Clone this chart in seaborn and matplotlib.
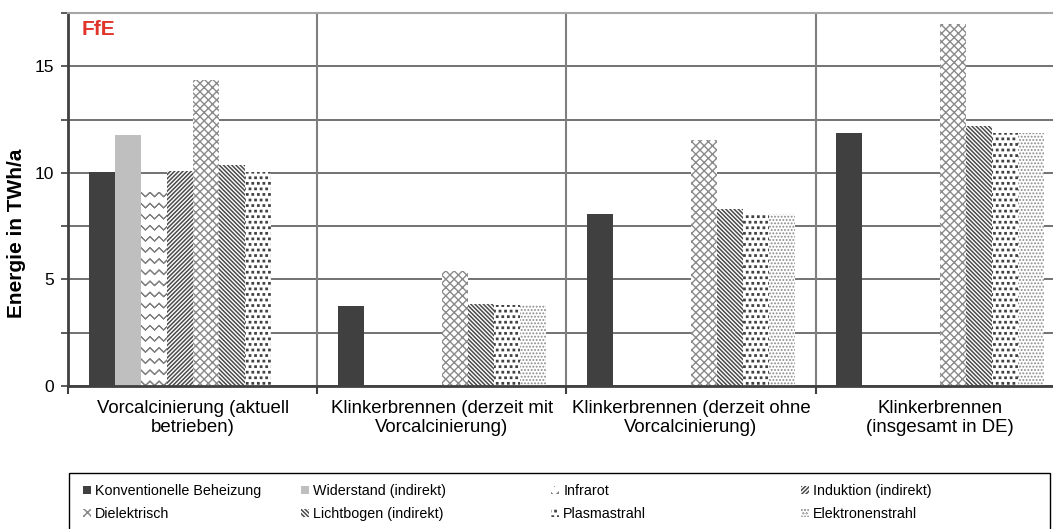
import warnings
warnings.filterwarnings("ignore")
import numpy as np
import pandas as pd
import matplotlib
matplotlib.use("Agg")
import matplotlib.pyplot as plt
import matplotlib.hatch as mhatch
from matplotlib.path import Path
from matplotlib.patches import Rectangle, Patch
from matplotlib.ticker import FixedLocator
from matplotlib import font_manager as fm
import seaborn as sns

# ---------------- data ----------------
categories = [
    "Vorcalcinierung (aktuell\nbetrieben)",
    "Klinkerbrennen (derzeit mit\nVorcalcinierung)",
    "Klinkerbrennen (derzeit ohne\nVorcalcinierung)",
    "Klinkerbrennen\n(insgesamt in DE)",
]
series = [
    "Konventionelle Beheizung",
    "Widerstand (indirekt)",
    "Infrarot",
    "Induktion (indirekt)",
    "Dielektrisch",
    "Lichtbogen (indirekt)",
    "Plasmastrahl",
    "Elektronenstrahl",
]
konventionell = [10.05, 3.75, 8.05, 11.85]
widerstand = [11.77, 0.0, 0.0, 0.0]
infrarot = [9.08, 0.0, 0.0, 0.0]
induktion = [10.08, 0.0, 0.0, 0.0]
dielektrisch = [14.38, 5.40, 11.56, 16.97]
lichtbogen = [10.36, 3.85, 8.30, 12.20]
plasmastrahl = [10.05, 3.78, 8.05, 11.85]
elektronenstrahl = [0.0, 3.78, 8.05, 11.85]
y_ticks = [0, 2.5, 5, 7.5, 10, 12.5, 15, 17.5]
y_tick_labels = ["0", "", "5", "", "10", "", "15", ""]
y_label = "Energie in TWh/a"
logo_text = "FfE"

values = [konventionell, widerstand, infrarot, induktion,
          dielektrisch, lichtbogen, plasmastrahl, elektronenstrahl]

# ---------------- custom hatches ----------------
class ZigZagHatch(mhatch.HatchPatternBase):
    """Horizontal zigzag lines (drawn forth and back so they enclose no area)."""
    def __init__(self, hatch, density):
        self.num_rows = int(hatch.count("~") * 3)
        self.teeth = 11
        self.n = 2 * self.teeth + 1
        self.num_vertices = self.num_rows * self.n * 2

    def set_vertices_and_codes(self, vertices, codes):
        n = self.n
        m = 2 * n
        xs = np.linspace(0, 1, n)
        amp = 0.2 / max(self.num_rows, 1)
        zig = np.where(np.arange(n) % 2 == 0, -amp, amp)
        for r in range(self.num_rows):
            y = (r + 0.5) / self.num_rows
            fx = np.concatenate([xs, xs[::-1]])
            fy = np.concatenate([y + zig, (y + zig)[::-1]])
            vertices[r * m:(r + 1) * m, 0] = fx
            vertices[r * m:(r + 1) * m, 1] = fy
            codes[r * m] = Path.MOVETO
            codes[r * m + 1:(r + 1) * m] = Path.LINETO


class SquareDots(mhatch.Shapes):
    size = 0.11
    filled = True

    def __init__(self, hatch, density):
        self.num_rows = int(hatch.count("s") * density)
        self.shape_vertices = np.array(
            [[-1, -1], [1, -1], [1, 1], [-1, 1], [-1, -1]], float)
        self.shape_codes = np.array(
            [Path.MOVETO, Path.LINETO, Path.LINETO, Path.LINETO, Path.CLOSEPOLY],
            dtype=Path.code_type)
        super().__init__(hatch, density)


mhatch._hatch_types.extend([ZigZagHatch, SquareDots])

# ---------------- fonts ----------------
try:
    fm.findfont("Liberation Sans Narrow", fallback_to_default=False)
    NARROW = True
except Exception:
    NARROW = False

plt.rcParams["font.family"] = ["Liberation Sans", "DejaVu Sans"]
plt.rcParams["hatch.linewidth"] = 1.1

styles = {
    "Konventionelle Beheizung": dict(fc="#404040", hatch=None, ec="#404040", hlw=1.1),
    "Widerstand (indirekt)": dict(fc="#bfbfbf", hatch=None, ec="#bfbfbf", hlw=1.1),
    "Infrarot": dict(fc="white", hatch="~~~", ec="#808080", hlw=0.8),
    "Induktion (indirekt)": dict(fc="white", hatch="////////", ec="#4a4a4a", hlw=1.1),
    "Dielektrisch": dict(fc="white", hatch="xxxx", ec="#8a8a8a", hlw=1.0),
    "Lichtbogen (indirekt)": dict(fc="white", hatch="\\" * 8, ec="#4a4a4a", hlw=1.1),
    "Plasmastrahl": dict(fc="white", hatch="sss", ec="#404040", hlw=1.1),
    "Elektronenstrahl": dict(fc="white", hatch=".....", ec="#8a8a8a", hlw=0.9),
}

# ---------------- figure ----------------
W, H = 1053, 529
fig = plt.figure(figsize=(W / 100, H / 100), dpi=100)
ax_left, ax_bottom, ax_top = 68, 386, 13
ax = fig.add_axes([ax_left / W, 1 - ax_bottom / H, 1 - ax_left / W,
                   (ax_bottom - ax_top) / H])

rows = []
for s, vals in zip(series, values):
    for c, v in zip(categories, vals):
        rows.append({"Kategorie": c, "Serie": s, "Wert": v})
df = pd.DataFrame(rows)

palette = {s: styles[s]["fc"] for s in series}
sns.barplot(data=df, x="Kategorie", y="Wert", hue="Serie", order=categories,
            hue_order=series, palette=palette, width=0.835, errorbar=None,
            saturation=1, legend=False, linewidth=0, ax=ax)

def style_patch(p, st):
    p.set_edgecolor(st["ec"])
    p.set_linewidth(0)
    if st["hatch"]:
        p.set_hatch(st["hatch"])
    if hasattr(p, "set_hatch_linewidth"):
        try:
            p.set_hatch_linewidth(st["hlw"])
        except Exception:
            pass

for cont, s in zip(ax.containers, series):
    for bar in cont:
        style_patch(bar, styles[s])
        bar.set_zorder(2)

# axes limits
cat_px = 249.2
ax.set_xlim(-0.5, -0.5 + (W - ax_left) / cat_px)
ax.set_ylim(y_ticks[0], y_ticks[-1])

# grid & separators
ax.set_yticks(y_ticks)
ax.set_yticklabels(y_tick_labels, fontsize=12.5, color="black")
ax.yaxis.grid(True, color="#5a5a5a", lw=1.2)
ax.set_axisbelow(True)
for i in range(len(categories) - 1):
    ax.axvline(i + 0.5, color="#7f7f7f", lw=1.5, zorder=1)

ax.set_xticks(range(len(categories)))
ax.set_xticklabels(categories, fontsize=13.4, linespacing=1.15)
ax.xaxis.set_minor_locator(FixedLocator([i - 0.5 for i in range(len(categories) + 1)]))
ax.tick_params(axis="x", which="major", length=0, pad=10)
ax.tick_params(axis="x", which="minor", length=6, width=1.5, color="#404040", direction="out")
ax.tick_params(axis="y", length=5, width=1.2, color="#404040", direction="out", pad=5)

ax.spines["right"].set_visible(False)
ax.spines["top"].set_color("#a6a6a6")
ax.spines["top"].set_linewidth(1.5)
ax.spines["left"].set_color("#404040")
ax.spines["left"].set_linewidth(2)
ax.spines["bottom"].set_color("#404040")
ax.spines["bottom"].set_linewidth(2)

ax.set_xlabel("")
ax.set_ylabel(y_label, fontsize=15, fontweight="bold")
ax.yaxis.set_label_coords((26 - ax_left) / (W - ax_left), 0.41)

# logo
logo_family = ["Liberation Sans Narrow", "Liberation Sans"] if NARROW else ["Liberation Sans"]
fig.text(82 / W, 1 - 39 / H, logo_text, fontsize=15, fontweight="bold",
         color="#e0352b", family=logo_family, va="bottom", ha="left")

# ---------------- legend ----------------
if NARROW:
    leg_family, leg_size = ["Liberation Sans Narrow", "Liberation Sans"], 11.5
else:
    leg_family, leg_size = ["Liberation Sans"], 10.3

handles = {}
for s in series:
    st = styles[s]
    hp = Patch(facecolor=st["fc"], edgecolor=st["ec"], hatch=st["hatch"], linewidth=0)
    handles[s] = hp

col_x = [83, 301, 551, 801]
ncol = 4
for ci, x in enumerate(col_x):
    col_series = [series[ci], series[ci + ncol]]
    fig.legend([handles[s] for s in col_series], col_series,
               loc="center left", bbox_to_anchor=(x / W, 1 - 502.5 / H),
               frameon=False, borderpad=0, borderaxespad=0,
               handlelength=0.55, handleheight=0.55, handletextpad=0.3,
               labelspacing=0.62, prop={"family": leg_family, "size": leg_size})

fig.patches.append(Rectangle((69 / W, 1 - 545 / H), (1050 - 69) / W, (545 - 473) / H,
                             transform=fig.transFigure, fill=False,
                             edgecolor="black", lw=1.0))

fig.savefig("out.png", dpi=100)
